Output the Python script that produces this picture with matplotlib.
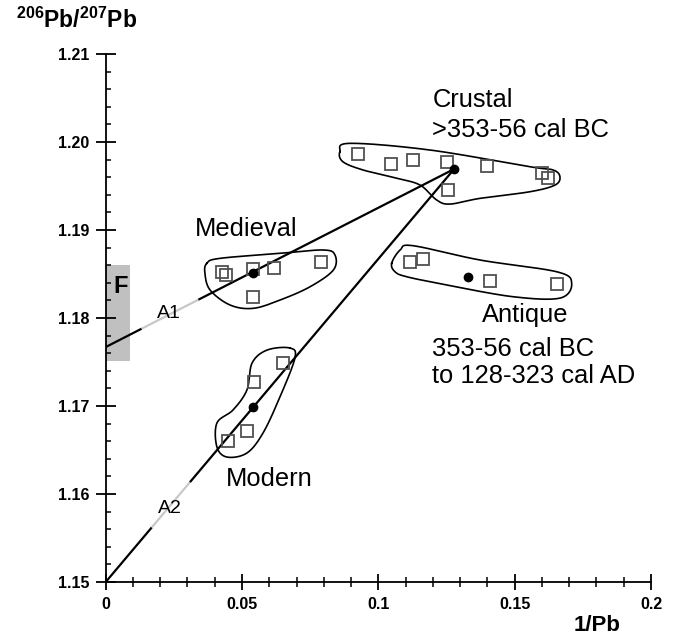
import numpy as np
import matplotlib
matplotlib.use('Agg')
from matplotlib import pyplot as plt
from matplotlib.patches import Rectangle

plt.rcParams['font.family'] = ['Liberation Sans', 'DejaVu Sans']
plt.rcParams['mathtext.fontset'] = 'custom'
plt.rcParams['mathtext.rm'] = 'Liberation Sans'
plt.rcParams['mathtext.bf'] = 'Liberation Sans:bold'

# sample points (1/Pb, 206Pb/207Pb)
medieval_x = [0.0427, 0.0441, 0.0539, 0.0617, 0.0790, 0.0539]
medieval_y = [1.18528, 1.18489, 1.18553, 1.18572, 1.18640, 1.18242]
modern_x = [0.0650, 0.0544, 0.0517, 0.0450]
modern_y = [1.17485, 1.17273, 1.16719, 1.16602]
crustal_x = [0.0924, 0.1047, 0.1128, 0.1251, 0.1398, 0.1602, 0.1624, 0.1257]
crustal_y = [1.19864, 1.19747, 1.19795, 1.19776, 1.19731, 1.19644, 1.19588, 1.19455]
antique_x = [0.1116, 0.1163, 0.1410, 0.1654]
antique_y = [1.18640, 1.18670, 1.18424, 1.18386]

# group means (black dots)
mean_x = [0.0539, 0.0539, 0.1278, 0.1330]
mean_y = [1.18515, 1.16985, 1.19693, 1.18466]

# mixing lines A1 and A2: intercept at 1/Pb = 0, end at crustal mean
a1_y0 = 1.1767
a2_y0 = 1.15
line_end = (0.1278, 1.19693)
a1_gray = (0.0132, 0.0340)
a2_gray = (0.0169, 0.0309)

# field F
f_x = (0.0, 0.009)
f_y = (1.1751, 1.1860)

# hand drawn group outlines
crustal_ox = [0.0859, 0.0896, 0.1190, 0.1556, 0.1641, 0.1666, 0.1648, 0.1556,
              0.1373, 0.1263, 0.1214, 0.1153, 0.1068, 0.0944, 0.0870]
crustal_oy = [1.19890, 1.19985, 1.19909, 1.19719, 1.19682, 1.19606, 1.19511, 1.19435,
              1.19360, 1.19295, 1.19341, 1.19511, 1.19588, 1.19682, 1.19776]
medieval_ox = [0.0371, 0.0419, 0.0640, 0.0798, 0.0841, 0.0835, 0.0750, 0.0640,
               0.0541, 0.0456, 0.0383, 0.0364]
medieval_oy = [1.18622, 1.18678, 1.18735, 1.18773, 1.18716, 1.18545, 1.18356, 1.18205,
               1.18110, 1.18148, 1.18318, 1.18508]
modern_ox = [0.0676, 0.0694, 0.0639, 0.0577, 0.0518, 0.0445, 0.0408, 0.0408,
             0.0467, 0.0518, 0.0537, 0.0592]
modern_oy = [1.17659, 1.17545, 1.17102, 1.16693, 1.16466, 1.16420, 1.16534, 1.16807,
             1.16955, 1.17182, 1.17489, 1.17636]
antique_ox = [0.1049, 0.1080, 0.1127, 0.1373, 0.1654, 0.1709, 0.1667, 0.1494,
              0.1251, 0.1104, 0.1061]
antique_oy = [1.18622, 1.18773, 1.18822, 1.18659, 1.18526, 1.18398, 1.18227, 1.18242,
              1.18375, 1.18469, 1.18526]


def smooth_loop(xs, ys, n=24):
    # closed catmull-rom curve through the outline points
    p = np.column_stack([xs, ys])
    m = len(p)
    out = []
    t = np.linspace(0, 1, n, endpoint=False)[:, None]
    for i in range(m):
        p0, p1, p2, p3 = p[i - 1], p[i], p[(i + 1) % m], p[(i + 2) % m]
        seg = 0.5 * ((2 * p1) + (-p0 + p2) * t + (2 * p0 - 5 * p1 + 4 * p2 - p3) * t ** 2
                     + (-p0 + 3 * p1 - 3 * p2 + p3) * t ** 3)
        out.append(seg)
    out = np.vstack(out + [out[0][:1]])
    return out[:, 0], out[:, 1]


def mix_line(ax, y0, gray):
    x1, y1 = line_end
    slope = (y1 - y0) / x1
    parts = [(0.0, gray[0], 'black'), (gray[0], gray[1], '#c8c8c8'), (gray[1], x1, 'black')]
    for xa, xb, c in parts:
        ax.plot([xa, xb], [y0 + slope * xa, y0 + slope * xb], color=c, lw=1.6,
                solid_capstyle='butt', zorder=3)


fig = plt.figure(figsize=(6.77, 6.37), dpi=100)
ax = fig.add_axes([0.1561, 0.0863, 0.8055, 0.8289])

ax.add_patch(Rectangle((f_x[0], f_y[0]), f_x[1] - f_x[0], f_y[1] - f_y[0],
                       facecolor='#c0c0c0', edgecolor='none', zorder=1))
ax.text(0.0055, 1.18356, 'F', fontsize=17, fontweight='bold', ha='center', va='center')

mix_line(ax, a1_y0, a1_gray)
mix_line(ax, a2_y0, a2_gray)

for ox, oy in [(crustal_ox, crustal_oy), (medieval_ox, medieval_oy),
               (modern_ox, modern_oy), (antique_ox, antique_oy)]:
    sx, sy = smooth_loop(ox, oy)
    ax.plot(sx, sy, color='black', lw=1.2, zorder=2)

for xs, ys in [(medieval_x, medieval_y), (modern_x, modern_y),
               (crustal_x, crustal_y), (antique_x, antique_y)]:
    ax.plot(xs, ys, linestyle='none', marker='s', markersize=8.5, markerfacecolor='none',
            markeredgecolor='#505050', markeredgewidth=1.3, zorder=4)

ax.plot(mean_x, mean_y, linestyle='none', marker='o', markersize=6, color='black', zorder=5)

txt = dict(fontsize=18.4, ha='left', va='center')
ax.text(0.1198, 1.20477, 'Crustal', **txt)
ax.text(0.1198, 1.20136, '>353-56 cal BC', **txt)
ax.text(0.0328, 1.19015, 'Medieval', **txt)
ax.text(0.1379, 1.18034, 'Antique', **txt)
ax.text(0.1198, 1.17653, '353-56 cal BC', **txt)
ax.text(0.1198, 1.17341, 'to 128-323 cal AD', **txt)
ax.text(0.0441, 1.16174, 'Modern', **txt)
ax.text(0.0233, 1.18049, 'A1', fontsize=14, ha='center', va='center')
ax.text(0.0234, 1.15833, 'A2', fontsize=14, ha='center', va='center')

ax.set_xlim(0, 0.2)
ax.set_ylim(1.15, 1.21)
ax.spines['top'].set_visible(False)
ax.spines['right'].set_visible(False)
ax.spines['left'].set_linewidth(1.3)
ax.spines['bottom'].set_linewidth(1.3)

ax.set_xticks([0, 0.05, 0.1, 0.15, 0.2])
ax.set_xticklabels(['0', '0.05', '0.1', '0.15', '0.2'])
ax.set_xticks(np.arange(0, 0.2001, 0.01), minor=True)
ax.set_yticks([1.15, 1.16, 1.17, 1.18, 1.19, 1.20, 1.21])
ax.set_yticklabels(['1.15', '1.16', '1.17', '1.18', '1.19', '1.20', '1.21'])
ax.set_yticks(np.arange(1.15, 1.2101, 0.002), minor=True)

ax.tick_params(axis='x', which='major', direction='inout', length=12, width=1.3, pad=5)
ax.tick_params(axis='x', which='minor', direction='inout', length=6.5, width=1.1)
ax.tick_params(axis='y', which='major', direction='inout', length=14, width=1.3, pad=5)
ax.tick_params(axis='y', which='minor', direction='in', length=3.5, width=1.1)
for lab in ax.get_xticklabels() + ax.get_yticklabels():
    lab.set_fontsize(11.5)
    lab.set_fontweight('bold')

fig.text(0.023, 0.956, r'$\mathbf{^{206}Pb/^{207}Pb}$', fontsize=16.5, ha='left', va='baseline')
fig.text(0.882, 0.0173, '1/Pb', fontsize=16, fontweight='bold', ha='center', va='center')

fig.savefig('out.png', dpi=100)
